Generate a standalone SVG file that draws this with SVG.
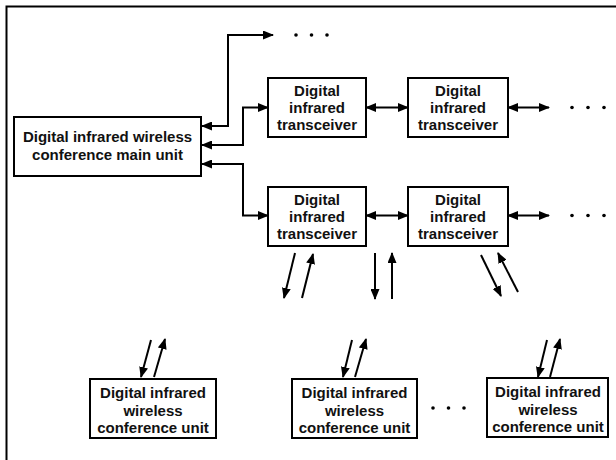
<svg xmlns="http://www.w3.org/2000/svg" width="616" height="460" viewBox="0 0 616 460">
<style>
.box{fill:#fff;stroke:#000;stroke-width:2}
.t{font-family:"Liberation Sans",Arial,sans-serif;font-size:15px;font-weight:bold;fill:#111;text-anchor:middle}
.c{fill:none;stroke:#000;stroke-width:2}
.dot{fill:#000}
</style>
<defs>
<marker id="ah" markerUnits="userSpaceOnUse" markerWidth="11" markerHeight="9" refX="10" refY="4.5" orient="auto-start-reverse">
<path d="M0,0 L11,4.5 L0,9 z" fill="#000"/>
</marker>
</defs>
<rect x="6.5" y="6.5" width="700" height="520" fill="none" stroke="#000" stroke-width="2"/>

<g id="main-unit">
<rect class="box" x="14" y="117" width="187" height="59"/>
<text class="t" x="107.5" y="142">Digital infrared wireless</text>
<text class="t" x="107.5" y="160">conference main unit</text>
</g>
<g id="transceiver-1">
<rect class="box" x="268" y="78" width="98" height="59"/>
<text class="t" x="317" y="96">Digital</text>
<text class="t" x="317" y="113">infrared</text>
<text class="t" x="317" y="130">transceiver</text>
</g>
<g id="transceiver-2">
<rect class="box" x="408" y="78" width="100" height="59"/>
<text class="t" x="458" y="96">Digital</text>
<text class="t" x="458" y="113">infrared</text>
<text class="t" x="458" y="130">transceiver</text>
</g>
<g id="transceiver-3">
<rect class="box" x="268" y="187" width="98" height="59"/>
<text class="t" x="317" y="205">Digital</text>
<text class="t" x="317" y="222">infrared</text>
<text class="t" x="317" y="239">transceiver</text>
</g>
<g id="transceiver-4">
<rect class="box" x="408" y="187" width="100" height="59"/>
<text class="t" x="458" y="205">Digital</text>
<text class="t" x="458" y="222">infrared</text>
<text class="t" x="458" y="239">transceiver</text>
</g>
<g id="unit-1">
<rect class="box" x="90" y="379" width="126" height="59"/>
<text class="t" x="153" y="398">Digital infrared</text>
<text class="t" x="153" y="415.5">wireless</text>
<text class="t" x="153" y="433">conference unit</text>
</g>
<g id="unit-2">
<rect class="box" x="292" y="379" width="125" height="59"/>
<text class="t" x="354.5" y="398">Digital infrared</text>
<text class="t" x="354.5" y="415.5">wireless</text>
<text class="t" x="354.5" y="433">conference unit</text>
</g>
<g id="unit-3">
<rect class="box" x="487" y="378" width="121" height="59"/>
<text class="t" x="548" y="397">Digital infrared</text>
<text class="t" x="548" y="414.5">wireless</text>
<text class="t" x="548" y="432">conference unit</text>
</g>

<g id="connectors">
<path class="c" d="M202,126 H228 V35 H273" marker-start="url(#ah)" marker-end="url(#ah)"/>
<path class="c" d="M202,145 H243 V107.5 H268" marker-start="url(#ah)" marker-end="url(#ah)"/>
<path class="c" d="M202,164 H243 V215.5 H268" marker-start="url(#ah)" marker-end="url(#ah)"/>
<path class="c" d="M366,107.5 H408" marker-start="url(#ah)" marker-end="url(#ah)"/>
<path class="c" d="M508,107.5 H549" marker-start="url(#ah)" marker-end="url(#ah)"/>
<path class="c" d="M366,215.5 H408" marker-start="url(#ah)" marker-end="url(#ah)"/>
<path class="c" d="M508,215.5 H549" marker-start="url(#ah)" marker-end="url(#ah)"/>
<path class="c" d="M295,253 L284,298" marker-end="url(#ah)"/>
<path class="c" d="M302,298 L313,254" marker-end="url(#ah)"/>
<path class="c" d="M375,253 V299" marker-end="url(#ah)"/>
<path class="c" d="M392,299 V253" marker-end="url(#ah)"/>
<path class="c" d="M481,255 L501,296" marker-end="url(#ah)"/>
<path class="c" d="M518,292 L498,253" marker-end="url(#ah)"/>
<path class="c" d="M151,340 L141,377" marker-end="url(#ah)"/>
<path class="c" d="M154,377 L165,339" marker-end="url(#ah)"/>
<path class="c" d="M352,340 L343,377" marker-end="url(#ah)"/>
<path class="c" d="M355,377 L366,339" marker-end="url(#ah)"/>
<path class="c" d="M547,340 L538,377" marker-end="url(#ah)"/>
<path class="c" d="M550,377 L560,339" marker-end="url(#ah)"/>
</g>
<g id="ellipses">
<circle class="dot" cx="296" cy="35" r="1.8"/><circle class="dot" cx="311.5" cy="35" r="1.8"/><circle class="dot" cx="327" cy="35" r="1.8"/>
<circle class="dot" cx="572" cy="107.5" r="1.8"/><circle class="dot" cx="588" cy="107.5" r="1.8"/><circle class="dot" cx="604" cy="107.5" r="1.8"/>
<circle class="dot" cx="572" cy="215.5" r="1.8"/><circle class="dot" cx="588" cy="215.5" r="1.8"/><circle class="dot" cx="604" cy="215.5" r="1.8"/>
<circle class="dot" cx="433" cy="408" r="1.8"/><circle class="dot" cx="448.5" cy="408" r="1.8"/><circle class="dot" cx="464" cy="408" r="1.8"/>
</g>
</svg>
